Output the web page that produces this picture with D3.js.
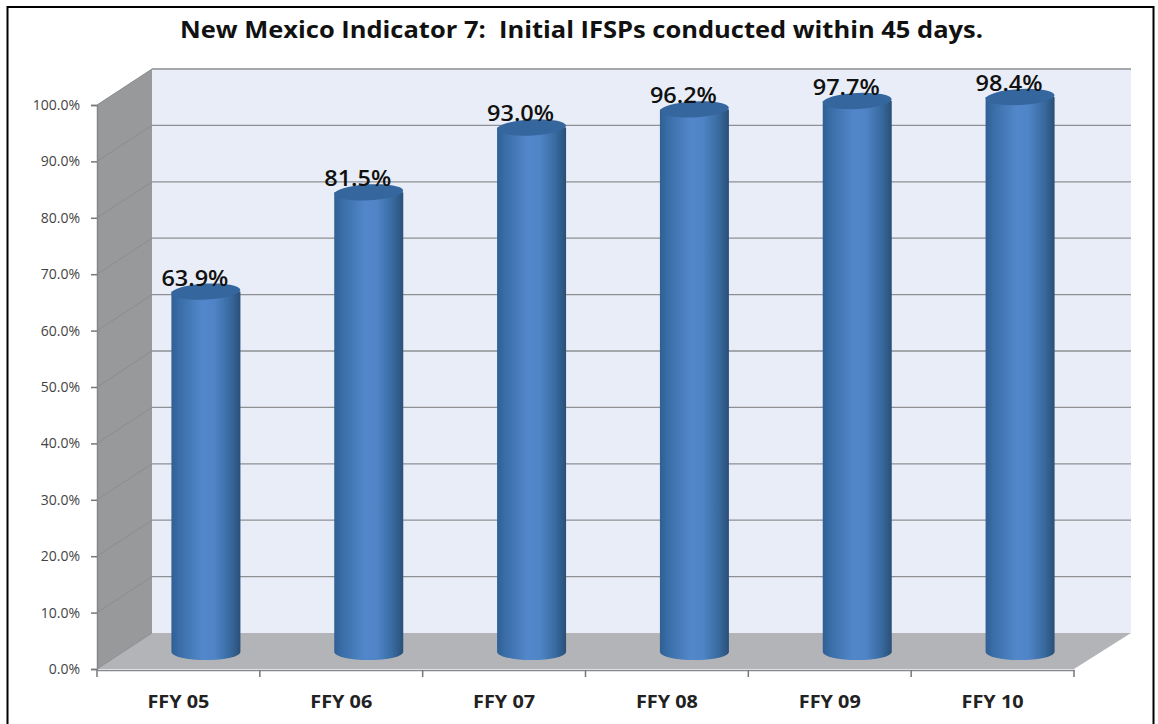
<!DOCTYPE html>
<html>
<head>
<meta charset="utf-8">
<script src="https://cdnjs.cloudflare.com/ajax/libs/d3/7.8.5/d3.min.js"></script>
<style>
  html, body { margin: 0; padding: 0; background: #fff; }
  svg { display: block; }
  text { font-family: "Open Sans", Lato, sans-serif; }
</style>
</head>
<body>
<div id="chart"></div>
<script>
// Chart content
const titleText = "New Mexico Indicator 7:  Initial IFSPs conducted within 45 days.";
const categories = ["FFY 05", "FFY 06", "FFY 07", "FFY 08", "FFY 09", "FFY 10"];
const rates = [63.9, 81.5, 93.0, 96.2, 97.7, 98.4];
const yTicks = [0, 10, 20, 30, 40, 50, 60, 70, 80, 90, 100];

const width = 1158, height = 724;

// Oblique projection of the 3D box
const plot = { left: 97, right: 1074, top: 105, bottom: 669 };
const depth = { dx: 55, dy: -36 };
const barWidth = 69, capRy = 8;
const barShift = { dx: 27.5, dy: -17 };

const x = d3.scaleBand().domain(categories).range([plot.left, plot.right]);
const y = d3.scaleLinear().domain([0, 100]).range([plot.bottom, plot.top]);

const svg = d3.select("#chart").append("svg").attr("width", width).attr("height", height);

// Cylinder shading, dark at both edges
const defs = svg.append("defs");
const grad = defs.append("linearGradient").attr("id", "cyl");
[[0, "#2f5f94"], [0.12, "#3a6ea8"], [0.45, "#5288cb"], [0.62, "#4f85c7"], [0.85, "#386a9f"], [1, "#2a4f78"]]
  .forEach(([o, c]) => grad.append("stop").attr("offset", o).attr("stop-color", c));

// Outer frame
svg.append("rect").attr("x", 7.5).attr("y", 7).attr("width", 1146).attr("height", 730)
  .attr("fill", "#fff").attr("stroke", "#000").attr("stroke-width", 2);

svg.append("text").attr("x", 581.5).attr("y", 38).attr("text-anchor", "middle")
  .attr("font-size", 22.5).attr("font-weight", 700).attr("fill", "#111")
  .attr("textLength", 803).attr("lengthAdjust", "spacingAndGlyphs")
  .style("white-space", "pre").text(titleText);

// Back wall
svg.append("rect")
  .attr("x", plot.left + depth.dx).attr("y", plot.top + depth.dy)
  .attr("width", plot.right - plot.left + 2).attr("height", plot.bottom - plot.top)
  .attr("fill", "#e8edf7");

// Side wall
svg.append("polygon").attr("fill", "#98999b").attr("points", [
  [plot.left, plot.top], [plot.left + depth.dx, plot.top + depth.dy],
  [plot.left + depth.dx, plot.bottom + depth.dy], [plot.left, plot.bottom]
].join(" "));

// Floor
svg.append("polygon").attr("fill", "#b3b4b7").attr("points", [
  [plot.left, plot.bottom], [plot.left + depth.dx, plot.bottom + depth.dy],
  [plot.right + depth.dx + 2, plot.bottom + depth.dy], [plot.right, plot.bottom]
].join(" "));

// Gridlines across side wall and back wall
const grid = svg.append("g").attr("fill", "none");
yTicks.forEach(t => {
  const yy = y(t);
  grid.append("path")
    .attr("d", `M${plot.left},${yy}L${plot.left + depth.dx},${yy + depth.dy}`)
    .attr("stroke", "#8a8c8f").attr("stroke-width", 1);
  if (t > 0) grid.append("path")
    .attr("d", `M${plot.left + depth.dx},${yy + depth.dy}H${plot.right + depth.dx + 2}`)
    .attr("stroke", t === 100 ? "#a5a7aa" : "#8e9093").attr("stroke-width", t === 100 ? 2 : 1.3);
});

// Axes
const yAxis = svg.append("g").attr("transform", `translate(${plot.left},0)`)
  .call(d3.axisLeft(y).tickValues(yTicks).tickSize(6).tickPadding(11).tickFormat(d => d.toFixed(1) + "%"));
const xAxis = svg.append("g").attr("transform", `translate(0,${plot.bottom + 1})`)
  .call(d3.axisBottom(x).tickSize(0).tickPadding(26));
[yAxis, xAxis].forEach(a => {
  a.selectAll("path.domain").attr("stroke", "#85878a").attr("stroke-width", 1.5);
  a.selectAll(".tick line").attr("stroke", "#777").attr("stroke-width", 1.5);
});
yAxis.selectAll("text").attr("font-size", 14).attr("font-weight", 500).attr("fill", "#444");
xAxis.selectAll("text").attr("font-size", 17).attr("font-weight", 700).attr("fill", "#222")
  .attr("textLength", 62).attr("lengthAdjust", "spacingAndGlyphs");
xAxis.selectAll(".tick line").remove();
xAxis.selectAll("line.cat").data(categories.map(c => x(c)).concat(plot.right)).join("line")
  .attr("class", "cat").attr("x1", d => d).attr("x2", d => d).attr("y1", 0).attr("y2", 7)
  .attr("stroke", "#777").attr("stroke-width", 1.5);

// Cylinders: body with a rounded foot, then the tilted cap
const bars = svg.append("g").selectAll("g").data(rates).join("g");
const cx = (d, i) => x(categories[i]) + x.bandwidth() / 2 + barShift.dx;
bars.append("path").attr("fill", "url(#cyl)").attr("d", (d, i) => {
  const c = cx(d, i), r = barWidth / 2, top = y(d) + barShift.dy, bottom = y(0) + barShift.dy;
  return `M${c - r},${top}L${c - r},${bottom}A${r},${capRy} 0 0 0 ${c + r},${bottom}L${c + r},${top}Z`;
});
bars.append("ellipse")
  .attr("cx", (d, i) => cx(d, i)).attr("cy", d => y(d) + barShift.dy)
  .attr("rx", barWidth / 2).attr("ry", capRy)
  .attr("transform", (d, i) => `rotate(-3 ${cx(d, i)} ${y(d) + barShift.dy})`)
  .attr("fill", "#35669d");

// Value labels sit on the cylinder caps
svg.append("g").selectAll("text").data(rates).join("text")
  .attr("x", (d, i) => cx(d, i) - 11)
  .attr("y", d => y(d) + barShift.dy - 6)
  .attr("text-anchor", "middle").attr("font-size", 21).attr("font-weight", 600).attr("fill", "#111")
  .attr("textLength", 67).attr("lengthAdjust", "spacingAndGlyphs")
  .text(d => d.toFixed(1) + "%");
</script>
</body>
</html>
